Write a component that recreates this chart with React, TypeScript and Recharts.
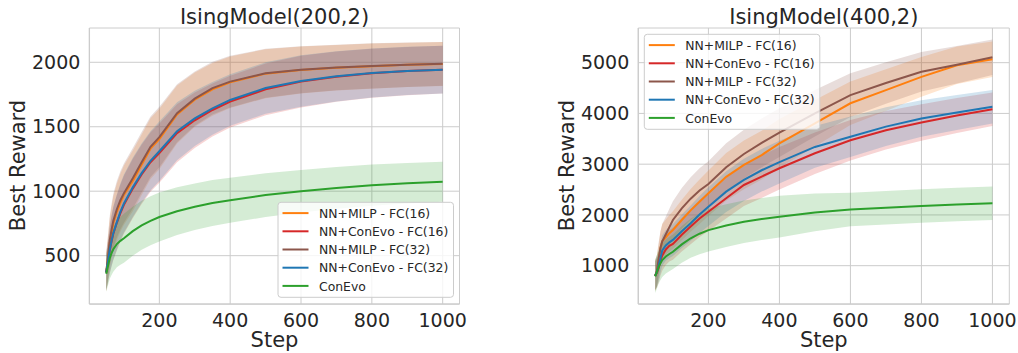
import { ComposedChart, Line, Area, XAxis, YAxis, CartesianGrid } from 'recharts';

const FONT = 'DejaVu Sans, sans-serif';
const TEXT = '#262626';
const GRID = '#cccccc';

const steps = [50, 55, 60, 65, 70, 80, 90, 100, 125, 150, 175, 200, 250, 300, 350, 400, 500, 600, 700, 800, 900, 1000];

const seriesNames = ['NN+MILP - FC(16)', 'NN+ConEvo - FC(16)', 'NN+MILP - FC(32)', 'NN+ConEvo - FC(32)', 'ConEvo'];
const seriesColors = ['#ff7f0e', '#d62728', '#8c564b', '#1f77b4', '#2ca02c'];

// IsingModel(200,2)
const smallMilp16 = [370, 480, 600, 680, 750, 840, 910, 970, 1080, 1205, 1330, 1405, 1595, 1710, 1790, 1845, 1912, 1940, 1958, 1970, 1980, 1987];
const smallConEvo16 = [370, 450, 540, 610, 670, 755, 830, 895, 1020, 1130, 1225, 1295, 1450, 1550, 1630, 1695, 1790, 1850, 1888, 1915, 1932, 1943];
const smallMilp32 = [370, 490, 620, 700, 770, 860, 930, 985, 1100, 1225, 1345, 1420, 1605, 1718, 1800, 1850, 1915, 1942, 1960, 1972, 1981, 1988];
const smallConEvo32 = [370, 455, 545, 615, 675, 760, 840, 905, 1030, 1140, 1235, 1310, 1465, 1565, 1642, 1708, 1800, 1855, 1891, 1917, 1933, 1943];
const smallConEvo = [360, 420, 480, 520, 550, 590, 615, 635, 690, 735, 770, 800, 845, 880, 908, 930, 970, 1000, 1025, 1047, 1062, 1073];
const smallMilpStd = [150, 170, 190, 200, 210, 220, 225, 230, 235, 235, 235, 235, 225, 210, 205, 200, 190, 182, 177, 175, 172, 170];
const smallConEvoStd = [140, 160, 180, 195, 205, 215, 220, 225, 230, 230, 230, 230, 225, 215, 205, 200, 200, 200, 195, 190, 187, 185];
const smallGreenStd = [140, 150, 160, 170, 175, 180, 185, 190, 190, 190, 190, 190, 185, 180, 178, 175, 170, 165, 162, 160, 157, 155];

// IsingModel(400,2)
const bigMilp16 = [800, 900, 1100, 1350, 1480, 1560, 1640, 1704, 1900, 2090, 2260, 2427, 2750, 2985, 3180, 3410, 3806, 4200, 4460, 4720, 4950, 5067];
const bigConEvo16 = [800, 860, 960, 1100, 1200, 1320, 1390, 1430, 1610, 1770, 1930, 2064, 2330, 2590, 2755, 2920, 3215, 3470, 3670, 3820, 3960, 4081];
const bigMilp32 = [800, 900, 1150, 1350, 1480, 1620, 1760, 1900, 2130, 2320, 2480, 2610, 2940, 3200, 3420, 3620, 4003, 4360, 4600, 4820, 4960, 5106];
const bigConEvo32 = [800, 880, 1000, 1150, 1300, 1400, 1460, 1507, 1680, 1838, 2010, 2163, 2459, 2690, 2880, 3040, 3340, 3540, 3740, 3900, 4020, 4133];
const bigConEvo = [790, 880, 980, 1050, 1110, 1180, 1230, 1275, 1420, 1540, 1630, 1700, 1790, 1865, 1920, 1966, 2050, 2105, 2140, 2175, 2205, 2230];
const bigMilpStd = [300, 310, 320, 330, 340, 350, 360, 370, 400, 420, 440, 450, 470, 480, 480, 480, 460, 430, 410, 390, 370, 350];
const bigConEvoStd = [280, 285, 290, 295, 300, 305, 310, 315, 330, 350, 365, 380, 400, 415, 420, 420, 410, 400, 380, 360, 345, 330];
const bigGreenStd = [330, 330, 330, 332, 334, 336, 338, 340, 360, 385, 405, 420, 420, 420, 415, 410, 370, 330, 330, 330, 330, 330];

const xTicks = [200, 400, 600, 800, 1000];
const smallYTicks = [500, 1000, 1500, 2000];
const bigYTicks = [1000, 2000, 3000, 4000, 5000];

const buildRows = (means: number[][], stds: number[][]) =>
  steps.map((step, i) => {
    const row: Record<string, number | number[]> = { step };
    means.forEach((m, k) => {
      row[`m${k}`] = m[i];
      row[`b${k}`] = [m[i] - stds[k][i], m[i] + stds[k][i]];
    });
    return row;
  });

const smallRows = buildRows(
  [smallMilp16, smallConEvo16, smallMilp32, smallConEvo32, smallConEvo],
  [smallMilpStd, smallConEvoStd, smallMilpStd, smallConEvoStd, smallGreenStd]
);
const bigRows = buildRows(
  [bigMilp16, bigConEvo16, bigMilp32, bigConEvo32, bigConEvo],
  [bigMilpStd, bigConEvoStd, bigMilpStd, bigConEvoStd, bigGreenStd]
);

interface PanelProps {
  rows: Record<string, number | number[]>[];
  yDomain: [number, number];
  yTicks: number[];
  left: number;
  width: number;
  yAxisWidth: number;
  rightGap: number;
}

const tickStyle = { fill: TEXT, fontSize: 19, fontFamily: FONT };

const Panel = ({ rows, yDomain, yTicks, left, width, yAxisWidth, rightGap }: PanelProps) => (
  <div style={{ position: 'absolute', left, top: 0 }}>
    <ComposedChart width={width} height={353} data={rows} margin={{ top: 28, right: rightGap, bottom: 0, left: 0 }}>
      <CartesianGrid stroke={GRID} strokeWidth={1} />
      <XAxis
        dataKey="step"
        type="number"
        domain={[2.5, 1047.5]}
        ticks={xTicks}
        allowDataOverflow
        height={49}
        tickLine={false}
        tickSize={0}
        tickMargin={10}
        axisLine={{ stroke: GRID, strokeWidth: 1.25 }}
        tick={tickStyle}
      />
      <XAxis xAxisId="top" orientation="top" type="number" domain={[2.5, 1047.5]} height={0} tick={false} tickLine={false} axisLine={{ stroke: GRID, strokeWidth: 1.25 }} />
      <YAxis
        type="number"
        domain={yDomain}
        ticks={yTicks}
        allowDataOverflow
        width={yAxisWidth}
        tickLine={false}
        tickSize={0}
        tickMargin={9}
        axisLine={{ stroke: GRID, strokeWidth: 1.25 }}
        tick={tickStyle}
      />
      <YAxis yAxisId="right" orientation="right" type="number" domain={yDomain} width={0} tick={false} tickLine={false} axisLine={{ stroke: GRID, strokeWidth: 1.25 }} />
      {seriesColors.map((c, k) => (
        <Area
          key={`b${k}`}
          dataKey={`b${k}`}
          type="linear"
          stroke="none"
          fill={c}
          fillOpacity={0.2}
          isAnimationActive={false}
          activeDot={false}
        />
      ))}
      {seriesColors.map((c, k) => (
        <Line
          key={`m${k}`}
          dataKey={`m${k}`}
          type="linear"
          stroke={c}
          strokeWidth={2}
          dot={false}
          activeDot={false}
          isAnimationActive={false}
        />
      ))}
    </ComposedChart>
  </div>
);

const LegendBox = ({ x, y }: { x: number; y: number }) => (
  <g>
    <rect x={x} y={y} width={175.5} height={95} rx={3} fill="#ffffff" fillOpacity={0.8} stroke={GRID} strokeWidth={1} />
    {seriesNames.map((name, k) => {
      const ry = y + 10.8 + k * 18.2;
      return (
        <g key={name}>
          <line x1={x + 4.5} x2={x + 30.5} y1={ry} y2={ry} stroke={seriesColors[k]} strokeWidth={2} />
          <text x={x + 41} y={ry + 4.6} fontSize={12.4} fontFamily={FONT} fill={TEXT}>
            {name}
          </text>
        </g>
      );
    })}
  </g>
);

const Labels = ({ cx, ylabelX, title }: { cx: number; ylabelX: number; title: string }) => (
  <g fontFamily={FONT} fill={TEXT}>
    <text x={cx} y={24} fontSize={21} textAnchor="middle">{title}</text>
    <text x={cx} y={347} fontSize={21} textAnchor="middle">Step</text>
    <text x={ylabelX} y={165.5} fontSize={21} textAnchor="middle" transform={`rotate(-90 ${ylabelX} 165.5)`}>
      Best Reward
    </text>
  </g>
);

const App = () => (
  <div style={{ position: 'absolute', left: 0, top: 0, width: 1018, height: 353, background: '#ffffff', overflow: 'hidden' }}>
    <Panel rows={smallRows} yDomain={[125, 2266]} yTicks={smallYTicks} left={0} width={470} yAxisWidth={89.4} rightGap={10.5} />
    <Panel rows={bigRows} yDomain={[245, 5683]} yTicks={bigYTicks} left={540} width={478} yAxisWidth={98.3} rightGap={8.7} />
    <svg width={1018} height={353} style={{ position: 'absolute', left: 0, top: 0, pointerEvents: 'none' }}>
      <Labels cx={274.5} ylabelX={25} title="IsingModel(200,2)" />
      <Labels cx={823.8} ylabelX={574} title="IsingModel(400,2)" />
      <LegendBox x={278} y={202.3} />
      <LegendBox x={644.3} y={34.3} />
    </svg>
  </div>
);

export default App;
